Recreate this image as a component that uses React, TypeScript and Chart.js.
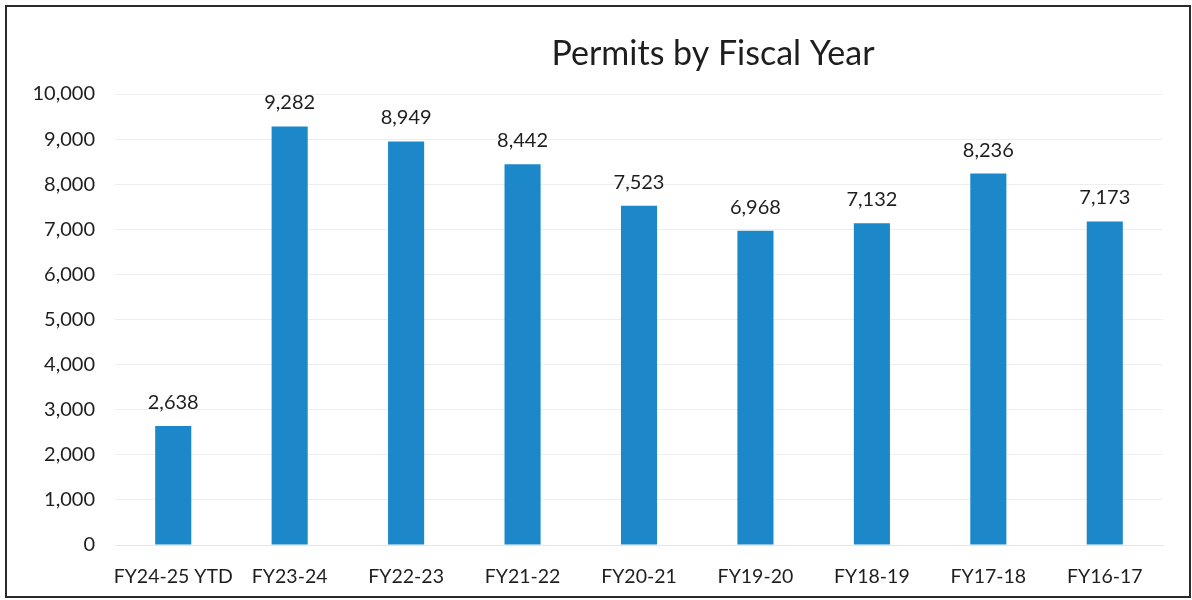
import React, { useEffect, useRef } from "react";
import { Chart, registerables } from "chart.js";

Chart.register(...registerables);

const categories: string[] = [
  "FY24-25 YTD",
  "FY23-24",
  "FY22-23",
  "FY21-22",
  "FY20-21",
  "FY19-20",
  "FY18-19",
  "FY17-18",
  "FY16-17",
];
const permits: number[] = [2638, 9282, 8949, 8442, 7523, 6968, 7132, 8236, 7173];
const titleText = "Permits by Fiscal Year";
const yMin = 0;
const yMax = 10000;
const yStep = 1000;

const FONT = "Lato, 'Open Sans', sans-serif";
const fmt = (v: number) => v.toLocaleString("en-US");

const decorPlugin = {
  id: "decor",
  beforeDraw(chart: any) {
    const { ctx, width, height } = chart;
    ctx.save();
    ctx.fillStyle = "#ffffff";
    ctx.fillRect(0, 0, width, height);
    ctx.restore();
  },
  afterDraw(chart: any) {
    const { ctx, width, height } = chart;
    ctx.save();
    ctx.strokeStyle = "#2a2a2a";
    ctx.lineWidth = 2;
    ctx.strokeRect(6, 6, width - 8, height - 9);
    ctx.fillStyle = "#1e1e1e";
    ctx.font = `34px ${FONT}`;
    ctx.textAlign = "center";
    ctx.textBaseline = "alphabetic";
    ctx.fillText(titleText, 713, 65);
    // value labels
    const meta = chart.getDatasetMeta(0);
    ctx.font = `20px ${FONT}`;
    ctx.fillStyle = "#1e1e1e";
    ctx.textBaseline = "alphabetic";
    meta.data.forEach((bar: any, i: number) => {
      ctx.fillText(fmt(permits[i]), bar.x, bar.y - 17);
    });
    ctx.restore();
  },
};

export default function App() {
  const ref = useRef<HTMLCanvasElement | null>(null);
  useEffect(() => {
    document.body.style.margin = "0";
    if (!ref.current) return;
    const chart = new Chart(ref.current, {
      type: "bar",
      data: {
        labels: categories,
        datasets: [
          {
            label: "Permits",
            data: permits,
            backgroundColor: "#1c87c9",
            borderWidth: 0,
            barPercentage: 0.31,
            categoryPercentage: 1,
          },
        ],
      },
      options: {
        animation: false,
        responsive: false,
        devicePixelRatio: 1,
        layout: { padding: { left: 0, right: 29, top: 94, bottom: 0 } },
        plugins: {
          legend: { display: false },
          title: { display: false },
          tooltip: { enabled: false },
        },
        scales: {
          x: {
            afterFit: (s: any) => {
              s.height = 55;
            },
            grid: { display: false, drawTicks: false },
            border: { display: true, color: "#e6e6e6" },
            ticks: {
              padding: 20,
              color: "#1e1e1e",
              font: { family: FONT, size: 19.5 },
              maxRotation: 0,
              autoSkip: false,
            },
          },
          y: {
            min: yMin,
            max: yMax,
            afterFit: (s: any) => {
              s.width = 115;
            },
            grid: { color: "#eeeeee", drawTicks: false },
            border: { display: false },
            ticks: {
              stepSize: yStep,
              padding: 20,
              color: "#1e1e1e",
              font: { family: FONT, size: 20 },
              callback: (v: any) => fmt(Number(v)),
            },
          },
        },
      },
      plugins: [decorPlugin],
    });
    return () => chart.destroy();
  }, []);
  return <canvas ref={ref} width={1192} height={600} style={{ display: "block" }} />;
}
